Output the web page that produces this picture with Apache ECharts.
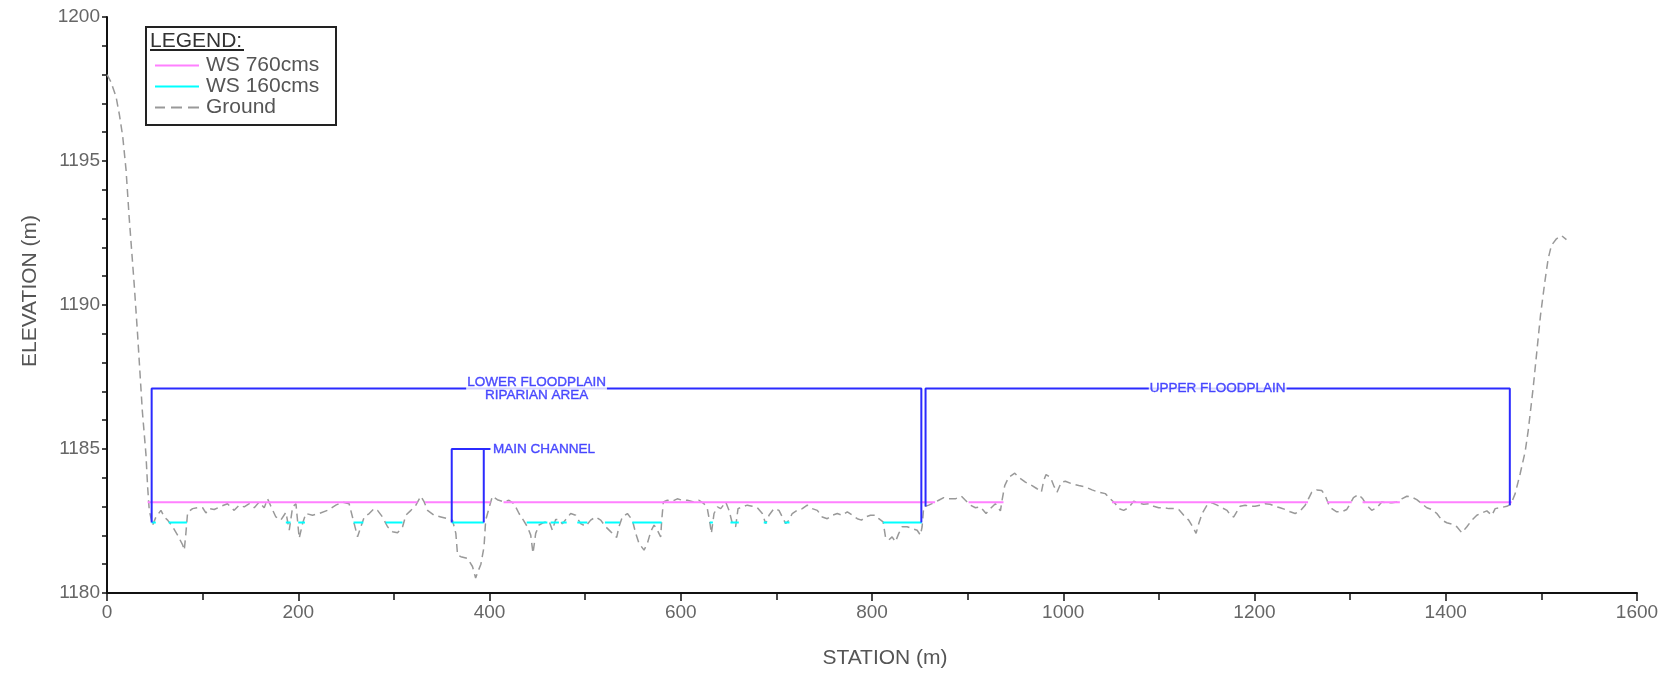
<!DOCTYPE html>
<html>
<head>
<meta charset="utf-8">
<script src="https://cdn.jsdelivr.net/npm/echarts@6/dist/echarts.min.js"></script>
<style>
html,body{margin:0;padding:0;background:#fff;}
#chart{width:1676px;height:677px;}
</style>
</head>
<body>
<div id="chart"></div>
<script>
// ---- Ground profile (station m, elevation m) ----
const groundStations = [0,4,9.4,13,16.4,19.9,23.3,28.5,32,37,40.7,42.5,44.2,47.7,51.2,56.4,59.9,63.4,68.6,73.8,79.1,80.8,82.5,84.3,89.5,94.7,100,103.4,106.9,112.1,119.1,126,133,138.3,143.5,148.8,154,159.2,164.4,167.9,171.4,176.6,181.8,187.1,190.6,194.1,197.6,201,204.5,208,214.9,221.9,230.6,239.3,246.3,253.2,256.7,262,265.5,269,274.2,279.4,282.9,288.1,293.4,298.6,303.8,309.1,312.5,317.8,323,328.2,331.7,335.2,342.1,349.1,356.1,361.3,364.8,366.6,370,377,382.2,385.5,388,391,394.3,396,403,408.2,415.2,420.4,425.6,430.9,435.4,439.6,443.1,445.5,448.3,451.8,457,462.3,465.7,469.2,472.7,476.2,481.4,484.9,490.1,495.3,500.6,505.8,511,516.3,521.5,526.7,533,535.4,538.9,544.2,549.4,552.9,556.4,561.6,565.1,568.6,572.1,575.5,579,580.1,581.8,586,591.2,596.4,601.7,606.9,613.9,619.1,624.3,627.8,630.6,632,634.8,638.3,641.8,647,650.5,654,657.4,659.9,664.4,669.6,674.8,680.1,685.3,688.8,692.3,697.5,702.7,706.2,709.7,713.2,716.6,721.8,727.1,732.3,737.5,742.8,748,753.2,758.5,763.7,768.9,774.2,779.4,784.6,789,793.1,798.4,803.6,807.1,811.6,814.1,817.5,821,824.5,828,831.5,836.7,841.9,847.2,850.6,852.4,854.1,859.3,864.6,869.8,875,880.3,887.2,893.5,897.7,902.9,908.2,913.4,919.3,923.8,929,934.3,936,938.8,943,949.3,953.4,960.4,967.4,972.6,977.1,979.6,982,986.6,990,993.5,998,1002.2,1009.2,1016.2,1023.1,1030.1,1037,1044,1049.2,1054.5,1058,1063.2,1068.4,1073.7,1078.9,1084.1,1089.3,1094.6,1099.8,1105.1,1110.3,1115.5,1120.8,1126,1131.2,1135.4,1138.9,1141.7,1145.2,1150.4,1155.6,1160.9,1166.1,1171.3,1174.8,1178.3,1184.9,1190.2,1195.4,1200.6,1205.9,1211.1,1216.3,1221.6,1226.8,1232,1237.3,1242.5,1247.7,1253,1256.4,1259.9,1265.1,1270.3,1273.8,1277.3,1280.8,1286,1291.3,1296.5,1300,1303.5,1308.7,1313.2,1317.4,1322.6,1327.9,1333.1,1338.3,1343.6,1348.8,1354,1359.3,1364.5,1369.7,1375,1380.2,1385.4,1390.7,1395.9,1401.1,1406.4,1411.6,1416.8,1422.1,1427.3,1432.5,1437.8,1443,1448.2,1451.7,1456.9,1463.9,1468.1,1472.6,1477.8,1483,1486.2,1491.4,1495.6,1499.1,1503.6,1507.1,1510.5,1515.8,1521,1526.2];
const groundElevations = [1198.0,1197.75,1197.24,1196.6,1195.86,1194.7,1192.99,1190.69,1188.97,1186.3,1184.83,1183.68,1182.87,1182.35,1182.64,1182.87,1182.64,1182.53,1182.3,1182.01,1181.67,1181.49,1182.07,1182.8,1182.93,1182.96,1182.96,1182.78,1182.93,1182.9,1183.01,1183.1,1182.87,1183.05,1182.99,1183.1,1182.96,1183.16,1182.96,1183.27,1183.01,1182.64,1182.53,1182.8,1182.18,1182.99,1183.1,1181.9,1182.41,1182.76,1182.7,1182.76,1182.87,1183.05,1183.16,1183.1,1182.64,1181.95,1182.3,1182.64,1182.76,1182.93,1182.87,1182.64,1182.3,1182.13,1182.09,1182.3,1182.7,1182.87,1183.05,1183.36,1183.16,1182.87,1182.7,1182.64,1182.58,1182.53,1182.07,1181.32,1181.26,1181.2,1180.92,1180.52,1180.75,1181.0,1181.61,1182.53,1183.36,1183.24,1183.16,1183.22,1183.1,1182.76,1182.53,1182.3,1182.01,1181.38,1182.07,1182.36,1182.45,1182.5,1182.18,1182.55,1182.55,1182.4,1182.62,1182.76,1182.7,1182.41,1182.32,1182.53,1182.64,1182.53,1182.3,1182.13,1181.93,1182.3,1182.64,1182.76,1182.53,1182.07,1181.72,1181.49,1181.72,1182.13,1182.36,1182.18,1181.95,1182.53,1183.16,1183.22,1183.19,1183.27,1183.22,1183.22,1183.16,1183.22,1183.1,1182.93,1182.41,1182.07,1182.76,1182.99,1182.93,1183.16,1182.87,1182.41,1182.3,1182.93,1182.99,1183.05,1183.01,1182.96,1182.76,1182.41,1182.7,1182.93,1182.87,1182.64,1182.41,1182.53,1182.76,1182.87,1182.93,1183.05,1182.93,1182.87,1182.64,1182.58,1182.7,1182.76,1182.7,1182.82,1182.7,1182.58,1182.53,1182.64,1182.7,1182.7,1182.58,1182.47,1181.95,1181.84,1181.95,1181.78,1182.07,1182.3,1182.3,1182.24,1182.18,1182.01,1182.3,1182.99,1183.05,1183.13,1183.22,1183.31,1183.27,1183.27,1183.36,1183.22,1183.05,1182.96,1182.99,1182.76,1182.93,1183.1,1182.85,1183.22,1183.73,1184.02,1184.16,1184.02,1183.85,1183.73,1183.62,1183.5,1183.91,1184.11,1184.02,1183.73,1183.5,1183.85,1183.88,1183.79,1183.73,1183.68,1183.58,1183.5,1183.45,1183.27,1183.1,1182.93,1182.87,1182.96,1183.19,1183.13,1183.08,1183.1,1183.01,1182.96,1182.96,1182.93,1182.93,1182.9,1182.7,1182.53,1182.3,1182.07,1182.41,1182.76,1183.05,1183.13,1183.05,1182.96,1182.87,1182.7,1182.64,1183.01,1183.05,1183.01,1183.01,1183.05,1183.1,1183.08,1183.01,1182.96,1182.9,1182.82,1182.76,1182.85,1183.05,1183.27,1183.5,1183.58,1183.56,1183.39,1183.1,1182.93,1182.82,1182.82,1182.9,1183.1,1183.31,1183.42,1183.27,1183.05,1182.87,1182.96,1183.16,1183.13,1183.13,1183.16,1183.27,1183.36,1183.33,1183.24,1183.1,1182.96,1182.9,1182.76,1182.53,1182.44,1182.39,1182.3,1182.09,1182.3,1182.53,1182.7,1182.78,1182.85,1182.7,1182.93,1182.96,1183.01,1183.08,1183.45,1184.14,1184.9,1185.63,1187.12,1188.5,1189.65,1190.8,1191.61,1192.07,1192.3,1192.41,1192.27];

// ---- Water surfaces ----
const ws760Level = 1183.15;
const ws760Reaches = [[42.5,324.6],[332.6,401],[414.7,866],[901,937.5],[1051,1256],[1276,1301.6],[1313,1352],[1373,1469]];
const ws160Level = 1182.45;
const ws160Reaches = [[46.7,51],[64.5,83.6],[187,192],[200,207],[257.8,268],[291.5,309],[360.5,394],[438.9,460.5],[464,472.6],[475.4,480.7],[491.8,502.3],[520.7,536.4],[549.3,580],[630.4,633.6],[652,660.7],[686.8,690.3],[708.5,713.7],[811.6,852]];

// ---- Annotation brackets (station, elevation) ----
const lowerFloodplainBracket = [[46.7,1182.45],[46.7,1187.1],[851.6,1187.1],[851.6,1182.45]];
const upperFloodplainBracket = [[856,1183.0],[856,1187.1],[1467,1187.1],[1467,1183.05]];
const mainChannelBracket = [[360.5,1182.45],[360.5,1185],[394,1185],[394,1182.45],null,[394,1185],[401,1185]];
const annotationLabels = [
  {name:'LOWER FLOODPLAIN\nRIPARIAN AREA', at:[449.2,1187.1], pos:'inside'},
  {name:'UPPER FLOODPLAIN', at:[1161.5,1187.1], pos:'inside'},
  {name:'MAIN CHANNEL', at:[401,1185], pos:'right'}
];

// ---- Axis settings ----
const xRange = [0,1600], xStep = 200;
const yRange = [1180,1200], yStep = 5;
const legendNames = ['WS 760cms','WS 160cms','Ground'];

function reachData(reaches, level){
  const out = [];
  reaches.forEach((r,i)=>{ if(i>0) out.push(null); out.push([r[0],level],[r[1],level]); });
  return out;
}
const groundData = groundStations.map((s,i)=>[s, groundElevations[i]]);

const BLUE = '#2b2bff';
const PINK = '#ff80ff', CYAN = '#00ffff', GREY = '#999999';
const labelFont = 'Liberation Sans, Arial, sans-serif';

const chart = echarts.init(document.getElementById('chart'), null, {renderer:'canvas'});
chart.setOption({
  backgroundColor:'#ffffff',
  animation:false,
  grid:{left:107, right:39, top:17, bottom:84, containLabel:false},
  xAxis:{
    type:'value', min:xRange[0], max:xRange[1], interval:xStep,
    name:'STATION (m)', nameLocation:'middle', nameGap:55,
    nameTextStyle:{fontSize:21, color:'#555', fontFamily:labelFont, padding:[0,0,0,26]},
    axisLine:{show:true, onZero:false, lineStyle:{color:'#111', width:2}},
    axisTick:{show:true, inside:false, length:8, lineStyle:{color:'#111', width:1.5}},
    minorTick:{show:true, splitNumber:2, length:7, lineStyle:{color:'#111', width:1.5}},
    axisLabel:{fontSize:19, color:'#666', margin:10, fontFamily:labelFont, formatter:v=>String(v)},
    splitLine:{show:false}
  },
  yAxis:{
    type:'value', min:yRange[0], max:yRange[1], interval:yStep,
    name:'ELEVATION (m)', nameLocation:'middle', nameGap:66, nameRotate:90,
    nameTextStyle:{fontSize:21, color:'#555', fontFamily:labelFont, padding:[0,0,0,28]},
    axisLine:{show:true, onZero:false, lineStyle:{color:'#111', width:2}},
    axisTick:{show:true, inside:false, length:5, lineStyle:{color:'#111', width:1.5}},
    minorTick:{show:true, splitNumber:5, length:5, lineStyle:{color:'#111', width:1.5}},
    axisLabel:{fontSize:19, color:'#666', margin:7, fontFamily:labelFont, formatter:v=>String(v)},
    splitLine:{show:false}
  },
  legend:{
    data:[
      {name:legendNames[0], icon:'rect'},
      {name:legendNames[1], icon:'rect'},
      {name:legendNames[2], icon:'path://M0,0h10v2h-10z M16,0h11v2h-11z M33,0h11v2h-11z'}
    ],
    orient:'vertical', left:155, top:55, padding:0, itemGap:0,
    itemWidth:44, itemHeight:2, symbolKeepAspect:false,
    textStyle:{fontSize:21, color:'#555', fontFamily:labelFont, lineHeight:21, padding:[0,0,0,2]},
    selectedMode:false
  },
  graphic:[
    {type:'rect', shape:{x:146, y:27, width:190, height:98}, style:{fill:'transparent', stroke:'#222', lineWidth:2}, z:0},
    {type:'text', x:150, y:31, style:{text:'LEGEND:', font:'21px '+labelFont, fill:'#333'}},
    {type:'line', shape:{x1:150, y1:50, x2:244, y2:50}, style:{stroke:'#222', lineWidth:2}}
  ],
  series:[
    {name:'Ground', type:'line', data:groundData, symbol:'none', z:2,
     itemStyle:{color:GREY}, lineStyle:{color:GREY, width:1.5, type:[8,5]}},
    {name:'WS 760cms', type:'line', data:reachData(ws760Reaches, ws760Level), symbol:'none', connectNulls:false, z:3,
     itemStyle:{color:PINK}, lineStyle:{color:PINK, width:2}},
    {name:'WS 160cms', type:'line', data:reachData(ws160Reaches, ws160Level), symbol:'none', connectNulls:false, z:3,
     itemStyle:{color:CYAN}, lineStyle:{color:CYAN, width:2}},
    {name:'lowerFP', type:'line', data:lowerFloodplainBracket, symbol:'none', z:4, lineStyle:{color:BLUE, width:2}},
    {name:'upperFP', type:'line', data:upperFloodplainBracket, symbol:'none', z:4, lineStyle:{color:BLUE, width:2}},
    {name:'mainCh', type:'line', data:mainChannelBracket, symbol:'none', connectNulls:false, z:4, lineStyle:{color:BLUE, width:2}},
    {name:'labels', type:'scatter', z:6, symbolSize:1, silent:true,
     itemStyle:{color:'rgba(0,0,0,0)'},
     data:annotationLabels.map(a=>({value:a.at, name:a.name,
       label:{show:true, formatter:a.name, position:a.pos, distance:1,
              align: a.pos==='right' ? 'left' : 'center', verticalAlign:'middle',
              color:BLUE, fontSize:13.5, fontWeight:'normal', fontFamily:labelFont,
              textBorderColor:BLUE, textBorderWidth:0.4,
              lineHeight:13, backgroundColor: a.pos==='right' ? 'transparent' : '#fff', padding:[0,1]}}))}
  ]
});
</script>
</body>
</html>
